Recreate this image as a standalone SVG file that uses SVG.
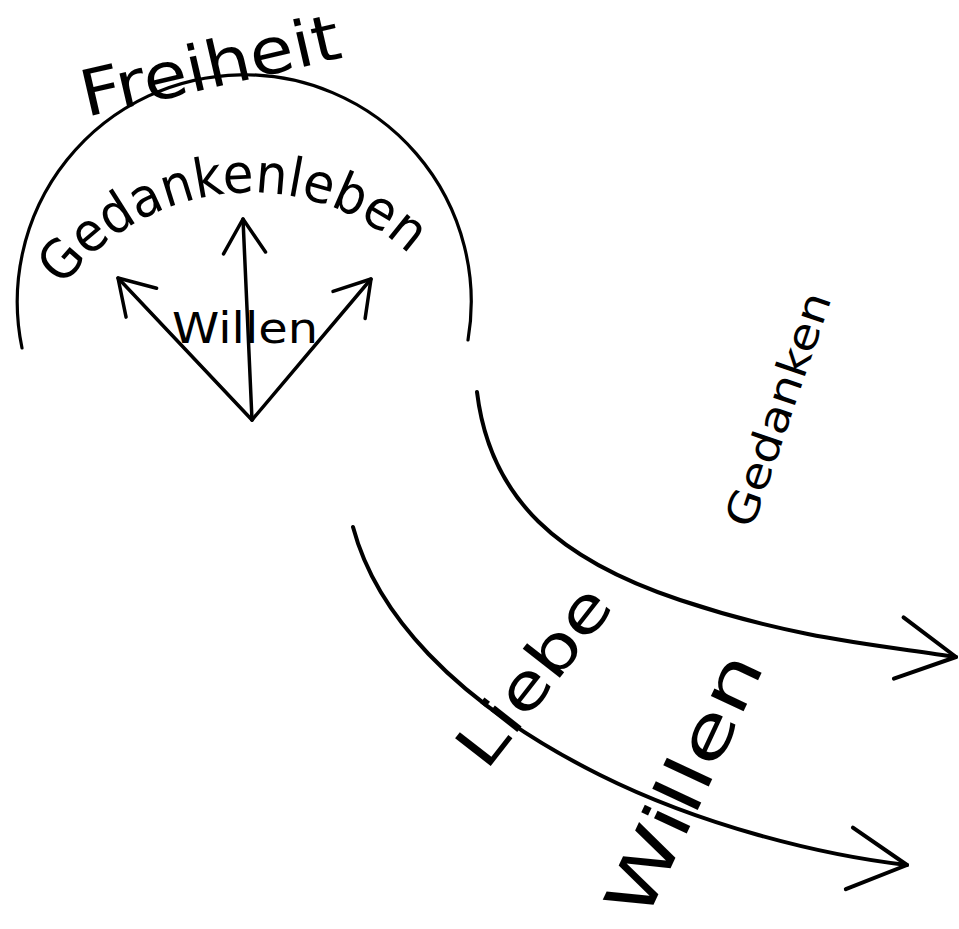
<svg xmlns="http://www.w3.org/2000/svg" width="959" height="929" viewBox="0 0 959 929">
<style>
.t{font-family:"DejaVu Sans","Liberation Sans",sans-serif;fill:#000;}
.ln{fill:none;stroke:#000;stroke-linecap:round;stroke-linejoin:round;}
</style>
<defs>
<marker id="hs" markerUnits="userSpaceOnUse" viewBox="-40 -26 44 52" markerWidth="44" markerHeight="52" refX="0" refY="0" orient="auto" overflow="visible">
<path d="M-34,-21 L0,0 L-34,21" fill="none" stroke="#000" stroke-width="3.5" stroke-linecap="round" stroke-linejoin="round"/>
</marker>
<marker id="hb" markerUnits="userSpaceOnUse" viewBox="-62 -34 66 68" markerWidth="66" markerHeight="68" refX="0" refY="0" orient="auto" overflow="visible">
<path d="M-58,-31 L0,0 L-58,31" fill="none" stroke="#000" stroke-width="4" stroke-linecap="round" stroke-linejoin="round"/>
</marker>
<path id="arcText" d="M 63,287 A 234 234 0 0 1 410,255"/>
</defs>
<rect width="959" height="929" fill="#fff"/>

<g id="sphere">
<path class="ln" stroke-width="3.2" d="M 22,348 A 227 227 0 1 1 468,340"/>
</g>

<g id="freiheit">
<text class="t" font-size="64" transform="translate(86,117) rotate(-13)" textLength="265" lengthAdjust="spacingAndGlyphs">Freiheit</text>
</g>

<g id="gedankenleben">
<text class="t" font-size="54"><textPath href="#arcText" textLength="392" lengthAdjust="spacingAndGlyphs">Gedankenleben</textPath></text>
</g>

<g id="willen-inner">
<text class="t" font-size="42" x="172" y="343" textLength="146" lengthAdjust="spacingAndGlyphs">Willen</text>
</g>

<g id="gedanken">
<text class="t" font-size="42" transform="translate(752,530) rotate(-71)" textLength="245" lengthAdjust="spacingAndGlyphs">Gedanken</text>
</g>

<g id="liebe">
<text class="t" font-size="62" transform="translate(486,772) rotate(-52)" textLength="210" lengthAdjust="spacingAndGlyphs">Liebe</text>
</g>

<g id="willen">
<text class="t" font-size="66" transform="translate(645,923) rotate(-65)" textLength="284" lengthAdjust="spacingAndGlyphs">Willen</text>
</g>

<g id="connectors">
<path class="ln" stroke-width="3.5" d="M252,420 L243,219" marker-end="url(#hs)"/>
<path class="ln" stroke-width="3.5" d="M252,420 L118,278" marker-end="url(#hs)"/>
<path class="ln" stroke-width="3.5" d="M252,420 L371,279" marker-end="url(#hs)"/>
<path class="ln" stroke-width="4" d="M477,392 C490,500 560,560 680,600 S880,645 956,657" marker-end="url(#hb)"/>
<path class="ln" stroke-width="4" d="M353,527 C375,610 450,700 600,775 C700,825 820,855 907,865" marker-end="url(#hb)"/>
</g>
</svg>
